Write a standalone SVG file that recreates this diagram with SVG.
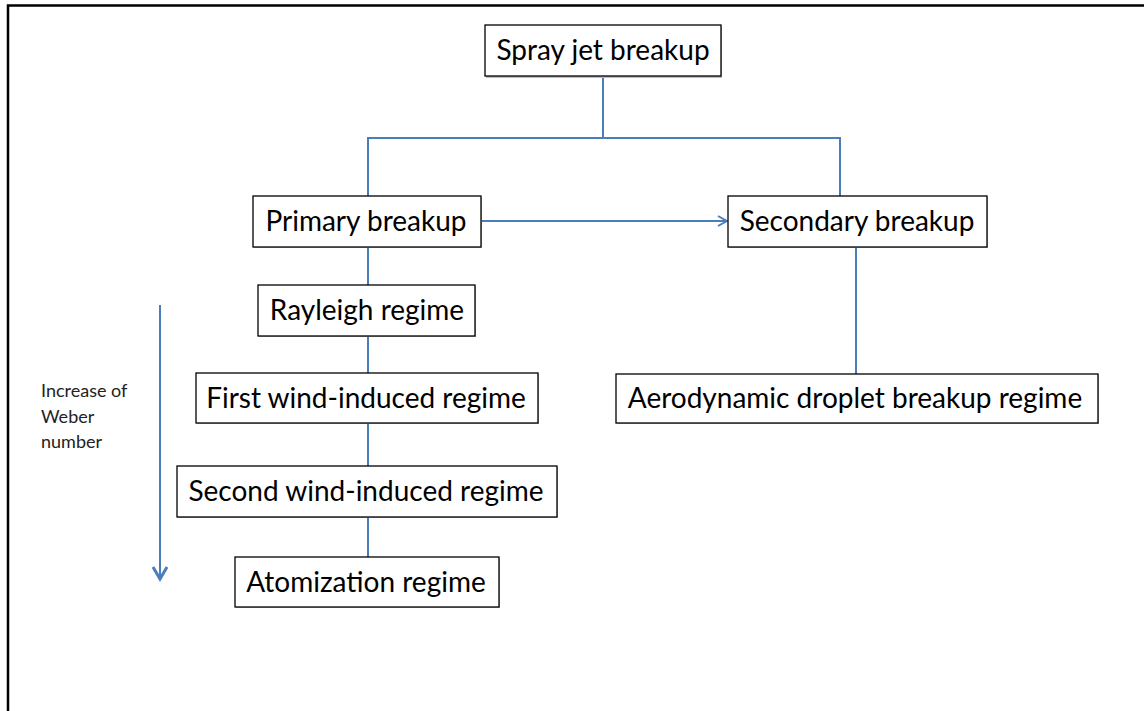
<svg xmlns="http://www.w3.org/2000/svg" width="1144" height="711" viewBox="0 0 1144 711">
<style>
.box{fill:#fff;stroke:#000;stroke-width:1.3}
.sh{fill:#bbb}
.t{font-family:Lato,"Liberation Sans",sans-serif;font-size:28px;fill:#000;text-anchor:middle}
.s{font-family:Lato,"Liberation Sans",sans-serif;font-size:18px;fill:#222}
.c{stroke:#4a7ebb;stroke-width:2;fill:none}
</style>
<defs>
<marker id="ah" markerWidth="12" markerHeight="12" refX="10" refY="6" orient="auto" markerUnits="userSpaceOnUse">
<path d="M1,1 L10,6 L1,11" fill="none" stroke="#4a7ebb" stroke-width="2"/>
</marker>
<marker id="ah2" markerWidth="16" markerHeight="16" refX="13" refY="8" orient="auto" markerUnits="userSpaceOnUse">
<path d="M1,1 L13,8 L1,15" fill="none" stroke="#4a7ebb" stroke-width="3"/>
</marker>
</defs>
<rect width="1144" height="711" fill="#fff"/>
<path d="M8,711 V5.5 H1144" fill="none" stroke="#000" stroke-width="2.5"/>
<g id="connectors">
<path class="c" d="M603,76 V138 M368,196 V138 H840 V196"/>
<path class="c" d="M481,221 H727" marker-end="url(#ah)"/>
<path class="c" d="M368,247 V285 M368,336 V373 M368,423 V466 M368,517 V557 M856,247 V374"/>
<path class="c" d="M160,305 V579" stroke-width="3" marker-end="url(#ah2)"/>
</g>
<g id="spray"><rect class="sh" x="486" y="26" width="236" height="52"/><rect class="box" x="485" y="25" width="236" height="51"/><text class="t" x="603" y="60">Spray jet breakup</text></g>
<g id="primary"><rect class="sh" x="254" y="197" width="228" height="51"/><rect class="box" x="253" y="196" width="228" height="51"/><text class="t" x="366" y="231">Primary breakup</text></g>
<g id="secondary"><rect class="sh" x="729" y="197" width="259" height="51"/><rect class="box" x="728" y="196" width="259" height="51"/><text class="t" x="857" y="231">Secondary breakup</text></g>
<g id="rayleigh"><rect class="sh" x="259" y="286" width="217" height="51"/><rect class="box" x="258" y="285" width="217" height="51"/><text class="t" x="367" y="320">Rayleigh regime</text></g>
<g id="first"><rect class="sh" x="197" y="374" width="342" height="50"/><rect class="box" x="196" y="373" width="342" height="50"/><text class="t" x="366" y="408">First wind-induced regime</text></g>
<g id="second"><rect class="sh" x="178" y="467" width="380" height="51"/><rect class="box" x="177" y="466" width="380" height="51"/><text class="t" x="366" y="501">Second wind-induced regime</text></g>
<g id="atom"><rect class="sh" x="236" y="558" width="264" height="50"/><rect class="box" x="235" y="557" width="264" height="50"/><text class="t" x="366" y="592">Atomization regime</text></g>
<g id="aero"><rect class="sh" x="617" y="375" width="482" height="49"/><rect class="box" x="616" y="374" width="482" height="49"/><text class="t" x="855" y="408">Aerodynamic droplet breakup regime</text></g>
<g id="weber"><text class="s" x="41" y="397">Increase of</text><text class="s" x="41" y="423">Weber</text><text class="s" x="41" y="448">number</text></g>
</svg>
